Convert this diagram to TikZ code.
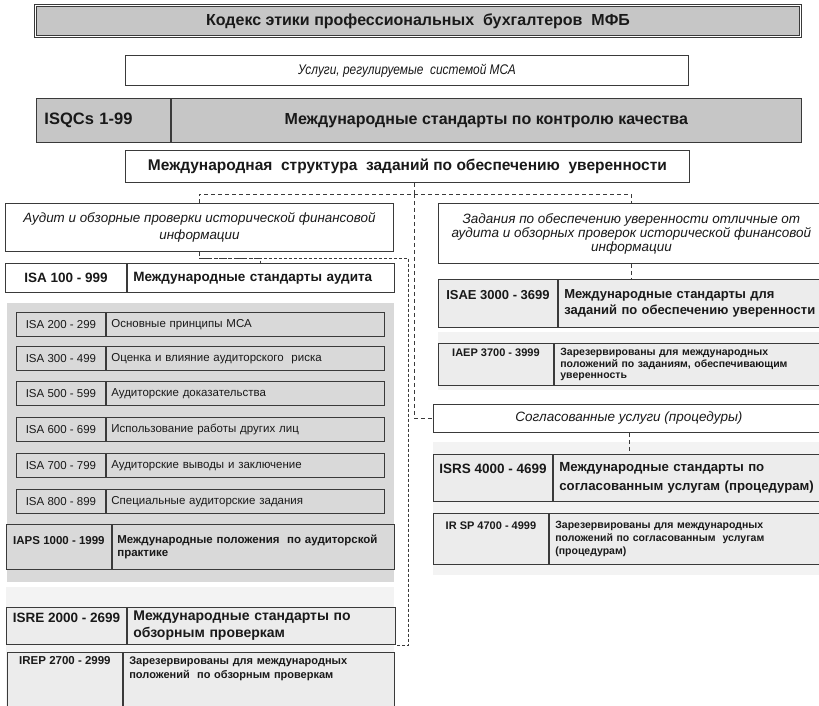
\documentclass[tikz,border=0pt]{standalone}
\usepackage{fontspec}
\setmainfont{Liberation Sans}
\newfontfamily\narrowit[FakeStretch=0.85]{Liberation Sans}
\usepackage{xcolor}
\usetikzlibrary{positioning}
\definecolor{mline}{RGB}{58,58,58}
\definecolor{mdark}{RGB}{198,198,198}
\definecolor{mpanel}{RGB}{217,217,217}
\definecolor{mrow}{RGB}{236,236,236}
\definecolor{mband}{RGB}{243,243,243}
\definecolor{mtext}{RGB}{25,25,25}
\newcommand{\fs}[2]{\fontsize{#1}{#2}\selectfont}

\begin{document}
\begin{tikzpicture}[x=1pt,y=-1pt]
  \tikzset{box/.style={draw=mline,line width=0.9pt,inner sep=0pt,anchor=north west,text=mtext},
           band/.style={fill=#1,anchor=north west,inner sep=0pt},
           isaL/.style={box,minimum width=89pt,minimum height=24pt,font=\fs{11.5}{14}},
           isaR/.style={box,minimum height=24pt,inner xsep=5pt,text width=268pt,align=left,font=\fs{11.5}{14}},
           link/.style={draw=mline,line width=0.8pt,dash pattern=on 4pt off 3pt}}
  \useasboundingbox (0,0) rectangle (819,705);
  \fill[white] (0,0) rectangle (819,705);

  \node [box,fill=mdark,double=white,double distance=1.3pt,line width=1.1pt,minimum width=765pt,minimum height=31pt,font=\bfseries\fs{16}{18}] (ethics) at (35,5) {Кодекс этики профессиональных\ \ бухгалтеров\ \ МФБ};
  \node [box,fill=white,minimum width=563pt,minimum height=30pt,font=\narrowit\itshape\fs{14}{17}] (services) at (125,55) {Услуги, регулируемые\ \ системой МСА};
  \node [box,fill=mdark,inner xsep=8pt,text width=118pt,minimum height=44pt,align=left,font=\bfseries\fs{16.5}{19}] (isqcL) at (36,98) {ISQCs 1-99};
  \node [box,fill=mdark,minimum width=630pt,minimum height=44pt,font=\bfseries\fs{16}{19}] (isqcR) at (isqcL.north east) {Международные стандарты по контролю качества};
  \node [box,fill=white,minimum width=564pt,minimum height=32pt,font=\bfseries\fs{15.5}{18}] (frame) at (125,150) {Международная\ \ структура\ \ заданий по обеспечению\ \ уверенности};

  % audit and review side
  \node [box,fill=white,minimum width=388pt,minimum height=48pt,align=center,font=\itshape\fs{13.4}{17}] (audit) at (5,203) {Аудит и обзорные проверки исторической финансовой\\информации};
  \node [box,fill=white,minimum width=121pt,minimum height=29pt,font=\bfseries\fs{13.5}{16}] (isa100L) at (5,263) {ISA 100 - 999};
  \node [box,fill=white,minimum height=29pt,inner xsep=6pt,text width=255pt,align=left,font=\bfseries\fs{13.5}{16}] (isa100R) at (isa100L.north east) {Международные стандарты аудита};

  \node [band=mpanel,minimum width=387pt,minimum height=279pt] (panel) at (7,303) {};
  \node [isaL] (isa200L) at (16,312) {ISA 200 - 299};
  \node [isaR] (isa200R) at (isa200L.north east) {Основные принципы МСА};
  \node [isaL] (isa300L) at (16,346) {ISA 300 - 499};
  \node [isaR] (isa300R) at (isa300L.north east) {Оценка и влияние аудиторского\ \ риска};
  \node [isaL] (isa500L) at (16,381) {ISA 500 - 599};
  \node [isaR] (isa500R) at (isa500L.north east) {Аудиторские доказательства};
  \node [isaL] (isa600L) at (16,417) {ISA 600 - 699};
  \node [isaR] (isa600R) at (isa600L.north east) {Использование работы других лиц};
  \node [isaL] (isa700L) at (16,453) {ISA 700 - 799};
  \node [isaR] (isa700R) at (isa700L.north east) {Аудиторские выводы и заключение};
  \node [isaL] (isa800L) at (16,489) {ISA 800 - 899};
  \node [isaR] (isa800R) at (isa800L.north east) {Специальные аудиторские задания};
  \node [box,minimum width=105pt,minimum height=45pt,align=center,font=\bfseries\fs{11.5}{13}] (iapsL) at (6,524) {IAPS 1000 - 1999\\\mbox{}};
  \node [box,minimum height=45pt,inner xsep=5pt,text width=272pt,align=left,font=\bfseries\fs{11.5}{13}] (iapsR) at (iapsL.north east) {Международные положения\ \ по аудиторской\\практике};

  \node [band=mband,minimum width=388pt,minimum height=125pt] (lowband) at (6,587) {};
  \node [box,fill=mrow,minimum width=120pt,minimum height=37pt,align=center,font=\bfseries\fs{13.5}{17}] (isreL) at (6,607) {ISRE 2000 - 2699\\\mbox{}};
  \node [box,fill=mrow,minimum height=37pt,inner xsep=6pt,text width=256pt,align=left,font=\bfseries\fs{14}{17}] (isreR) at (isreL.north east) {Международные стандарты по\\обзорным проверкам};
  \node [box,fill=mrow,minimum width=115pt,minimum height=58pt,align=center,font=\bfseries\fs{11.5}{14}] (irepL) at (7,652) {IREP 2700 - 2999\\\mbox{}\\\mbox{}\\\mbox{}};
  \node [box,fill=mrow,minimum height=58pt,inner xsep=6pt,text width=259pt,align=left,font=\bfseries\fs{11}{14}] (irepR) at (irepL.north east) {Зарезервированы для международных\\положений\ \ по обзорным проверкам\\\mbox{}\\\mbox{}};

  % assurance side
  \node [box,fill=white,minimum width=386pt,minimum height=60pt,align=center,font=\itshape\fs{13.5}{14}] (assur) at (438,203) {Задания по обеспечению уверенности отличные от\\аудита и обзорных проверок исторической финансовой\\информации};
  \node [box,fill=mrow,minimum width=119pt,minimum height=48pt,align=center,font=\bfseries\fs{13}{16.5}] (isaeL) at (438,279) {ISAE 3000 - 3699\\\mbox{}};
  \node [box,fill=mrow,minimum height=48pt,inner xsep=6pt,text width=300pt,align=left,font=\bfseries\fs{13}{16.5}] (isaeR) at (isaeL.north east) {Международные стандарты для\\заданий по обеспечению уверенности};
  \node [band=mband,minimum width=386pt,minimum height=58pt] (bandA) at (438,332) {};
  \node [box,fill=mrow,minimum width=115pt,minimum height=42pt,align=center,font=\bfseries\fs{11}{11.5}] (iaepL) at (438,343) {IAEP 3700 - 3999\\\mbox{}\\\mbox{}};
  \node [box,fill=mrow,minimum height=42pt,inner xsep=6pt,text width=300pt,align=left,font=\bfseries\fs{10.5}{11.5}] (iaepR) at (iaepL.north east) {Зарезервированы для международных\\положений по заданиям, обеспечивающим\\уверенность};

  \node [box,fill=white,minimum width=391pt,minimum height=28pt,font=\itshape\fs{13.5}{17}] (agreed) at (433,404) {Согласованные услуги (процедуры)};
  \node [band=mband,minimum width=391pt,minimum height=133pt] (bandB) at (433,442) {};
  \node [box,fill=mrow,minimum width=119pt,minimum height=47pt,align=center,font=\bfseries\fs{13.5}{19}] (isrsL) at (433,454) {ISRS 4000 - 4699\\\mbox{}};
  \node [box,fill=mrow,minimum height=47pt,inner xsep=6pt,text width=300pt,align=left,font=\bfseries\fs{13.2}{19}] (isrsR) at (isrsL.north east) {Международные стандарты по\\согласованным услугам (процедурам)};
  \node [box,fill=mrow,minimum width=115pt,minimum height=51pt,align=center,font=\bfseries\fs{11}{13}] (irspL) at (433,513) {IR SP 4700 - 4999\\\mbox{}\\\mbox{}};
  \node [box,fill=mrow,minimum height=51pt,inner xsep=6pt,text width=300pt,align=left,font=\bfseries\fs{10.5}{13}] (irspR) at (irspL.north east) {Зарезервированы для международных\\положений по согласованным\ \ услугам\\(процедурам)};

  % dashed links
  \draw[link] ([xshift=7pt]frame.south) -- ++(0,11) coordinate (hub);
  \draw[link] (audit.north) |- (hub) -| (assur.north);
  \draw[link] (hub) |- (agreed.west);
  \draw[link] (audit.south) -- ++(0,6) coordinate (auditknee) -| (isa100R.north);
  \coordinate (rvcorner) at ([xshift=13pt]isreR.south east);
  \draw[link,dash pattern=on 3pt off 2pt] (auditknee) -| (rvcorner) -- (isreR.south east);
  \draw[link] (assur.south) -- (assur.south |- isaeR.north);
  \draw[link] (agreed.south) -- (agreed.south |- isrsR.north);
\end{tikzpicture}
\end{document}
